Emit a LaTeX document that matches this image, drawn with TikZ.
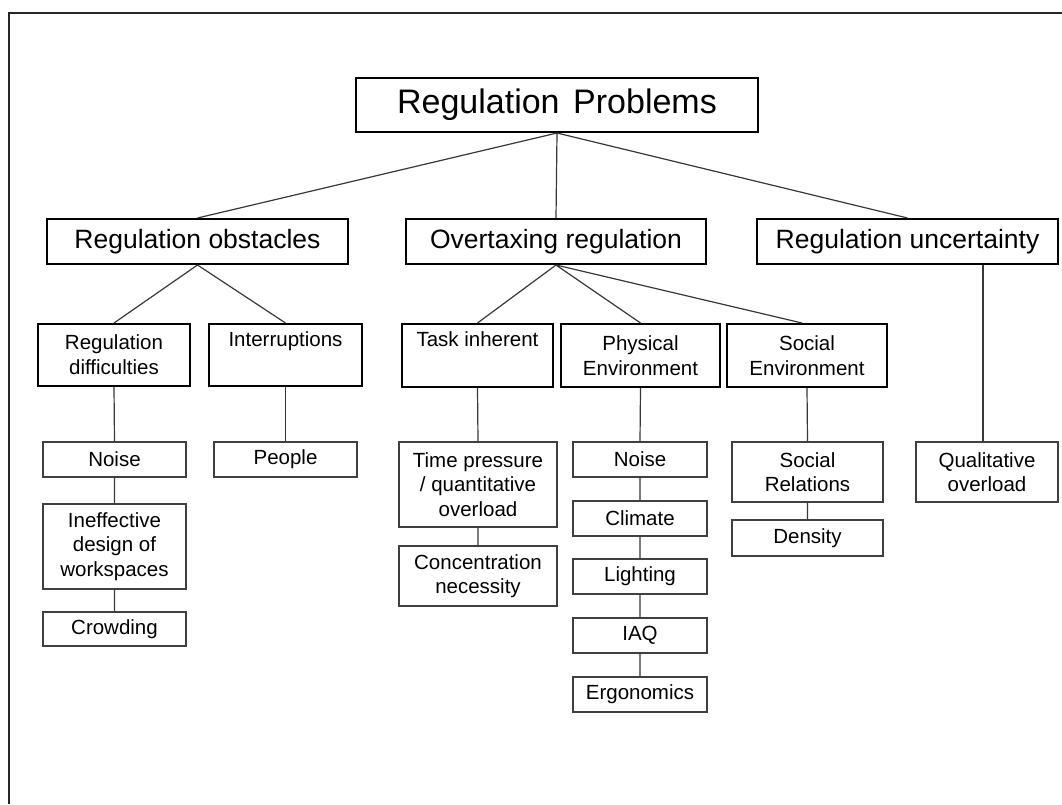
\documentclass[tikz,border=0pt]{standalone}
\usepackage{fontspec}
\setmainfont{Liberation Sans}
\begin{document}
\begin{tikzpicture}[x=1pt,y=-1pt,
  every node/.style={inner sep=0pt, align=center, text=black},
  headbox/.style={draw=black, line width=2pt},
  topbox/.style={headbox, minimum width=402pt, minimum height=54pt,
    font=\fontsize{34}{40}\selectfont},
  groupbox/.style={headbox, minimum width=301pt, minimum height=45pt,
    font=\fontsize{26.5}{31}\selectfont},
  subbox/.style={headbox, minimum height=62pt,
    font=\fontsize{20.5}{25}\selectfont},
  leaf/.style={draw=black!75, line width=1.3pt, minimum height=35pt,
    font=\fontsize{20.5}{24.5}\selectfont},
  link/.style={draw=black!78, line width=1.2pt}
]
% page and outer frame
\useasboundingbox (0,0) rectangle (1062,804);
\fill[white] (0,0) rectangle (1062,804);
\draw[black!85, line width=2pt] (9,804) -- (9,13) -- (1062,13);

% root
\node[topbox] (top) at (557,105) {Regulation\hspace{0.4em}Problems};

% main groups
\node[groupbox] (ro) at (197.5,241.5) {Regulation obstacles};
\node[groupbox, minimum width=300pt] (ot) at (556,241.5) {Overtaxing regulation};
\node[groupbox] (ru) at (907.5,241.5) {Regulation uncertainty};

% sub-groups
\node[subbox, minimum width=152pt] (rd) at (114,355) {Regulation\\difficulties};
\node[subbox, minimum width=153pt] (ir) at (285.5,355) {Interruptions\\\strut};
\node[subbox, minimum width=151pt, minimum height=63pt] (ti) at (477.5,355.5) {Task inherent\\\strut};
\node[subbox, minimum width=159pt, minimum height=63pt] (pe) at (640.5,355.5) {Physical\\Environment};
\node[subbox, minimum width=160pt, minimum height=63pt] (se) at (807,355.5) {Social\\Environment};

% regulation difficulties chain
\node[leaf, minimum width=143pt] (noisea) at (114.5,459.5) {Noise};
\node[leaf, minimum width=143pt, minimum height=85pt] (ineff) at (114.5,546.5) {Ineffective\\design of\\workspaces};
\node[leaf, minimum width=143pt, minimum height=34pt] (crowd) at (114.5,629) {Crowding};

% interruptions
\node[leaf, minimum width=143pt] (people) at (285.5,459.5) {People};

% task inherent chain
\node[leaf, minimum width=158pt, minimum height=85pt] (time) at (478,484.5) {Time pressure\\/ quantitative\\overload};
\node[leaf, minimum width=158pt, minimum height=60pt] (conc) at (478,576) {Concentration\\necessity};

% physical environment chain
\node[leaf, minimum width=134pt] (noiseb) at (640,459.5) {Noise};
\node[leaf, minimum width=134pt] (climate) at (640,518.5) {Climate};
\node[leaf, minimum width=134pt] (light) at (640,576.5) {Lighting};
\node[leaf, minimum width=134pt] (iaq) at (640,635.5) {IAQ};
\node[leaf, minimum width=134pt] (ergo) at (640,694.5) {Ergonomics};

% social environment chain
\node[leaf, minimum width=151pt, minimum height=60pt] (socrel) at (807.5,472) {Social\\Relations};
\node[leaf, minimum width=151pt, minimum height=36pt] (dens) at (807.5,538) {Density};

% regulation uncertainty
\node[leaf, minimum width=142pt, minimum height=60pt] (qual) at (987,472) {Qualitative\\overload};

% connectors
\path[link] (top.south) -- (ro.north)
            (top.south) -- (ot.north)
            (top.south) -- (ru.north);
\path[link] (ro.south) -- (rd.north)
            (ro.south) -- (ir.north);
\path[link] (ot.south) -- (ti.north)
            (ot.south) -- (pe.north)
            (ot.south) -- ([xshift=-5pt]se.north);
\path[link] (rd.south) -- (noisea.north)
            (noisea.south) -- (ineff.north)
            (ineff.south) -- (crowd.north);
\path[link] (ir.south) -- (people.north);
\path[link] (ti.south) -- (time.north)
            (time.south) -- (conc.north);
\path[link] (pe.south) -- (noiseb.north)
            (noiseb.south) -- (climate.north)
            (climate.south) -- (light.north)
            (light.south) -- (iaq.north)
            (iaq.south) -- (ergo.north);
\path[link] (se.south) -- (socrel.north)
            (socrel.south) -- (dens.north);
\path[link] ([xshift=-4pt]qual.north) -- ([xshift=-4pt]qual.north |- ru.south);
\end{tikzpicture}
\end{document}
